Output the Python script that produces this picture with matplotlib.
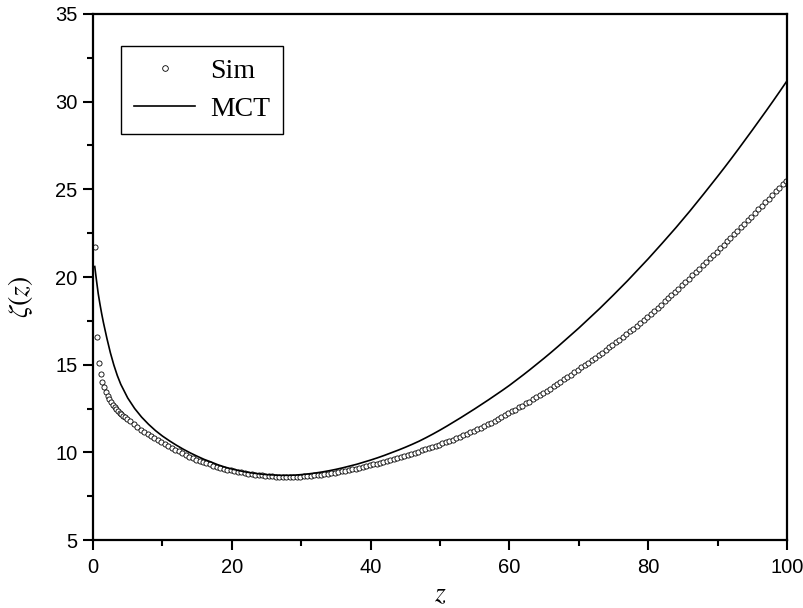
import numpy as np
import matplotlib
matplotlib.use("Agg")
import matplotlib.pyplot as plt
from matplotlib.ticker import MultipleLocator

# simulation: fine grid near the wall, then every 0.5
sim_z_near = np.round(0.35 + 0.25 * np.arange(19), 2)
sim_y_near = [21.7, 16.6, 15.1, 14.45, 14.0, 13.7, 13.45, 13.22, 13.02, 12.85,
              12.71, 12.58, 12.46, 12.36, 12.26, 12.17, 12.08, 12.00, 11.92]

sim_z_far = np.round(5.35 + 0.5 * np.arange(190), 2)
sim_y_far = [
    11.76, 11.59, 11.43, 11.29, 11.16, 11.04, 10.92, 10.81, 10.70, 10.59,
    10.48, 10.38, 10.27, 10.16, 10.06, 9.96, 9.86, 9.76, 9.66, 9.58,
    9.51, 9.44, 9.37, 9.31, 9.25, 9.19, 9.13, 9.07, 9.02, 8.98,
    8.94, 8.90, 8.86, 8.82, 8.78, 8.75, 8.72, 8.70, 8.68, 8.66,
    8.64, 8.63, 8.62, 8.61, 8.60, 8.60, 8.60, 8.60, 8.61, 8.62,
    8.63, 8.65, 8.67, 8.69, 8.71, 8.73, 8.76, 8.79, 8.82, 8.85,
    8.88, 8.92, 8.95, 8.99, 9.03, 9.07, 9.11, 9.16, 9.21, 9.26,
    9.31, 9.36, 9.41, 9.46, 9.51, 9.57, 9.62, 9.68, 9.74, 9.80,
    9.86, 9.92, 9.98, 10.04, 10.11, 10.17, 10.24, 10.30, 10.37, 10.44,
    10.51, 10.58, 10.66, 10.73, 10.81, 10.89, 10.97, 11.06, 11.14, 11.23,
    11.32, 11.41, 11.51, 11.60, 11.70, 11.80, 11.90, 12.01, 12.11, 12.22,
    12.33, 12.44, 12.56, 12.67, 12.79, 12.90, 13.02, 13.14, 13.27, 13.39,
    13.52, 13.64, 13.77, 13.90, 14.03, 14.16, 14.29, 14.43, 14.56, 14.70,
    14.84, 14.98, 15.12, 15.26, 15.40, 15.54, 15.69, 15.83, 15.98, 16.12,
    16.27, 16.42, 16.58, 16.74, 16.90, 17.06, 17.22, 17.39, 17.56, 17.73,
    17.90, 18.08, 18.25, 18.43, 18.61, 18.79, 18.97, 19.15, 19.34, 19.53,
    19.71, 19.90, 20.09, 20.28, 20.47, 20.67, 20.86, 21.06, 21.25, 21.45,
    21.65, 21.85, 22.04, 22.24, 22.44, 22.64, 22.84, 23.04, 23.24, 23.45,
    23.65, 23.85, 24.06, 24.26, 24.47, 24.67, 24.88, 25.08, 25.29, 25.50,
]

# MCT curve
mct_z = [0.25, 0.5, 0.75, 1.0, 1.25, 1.5, 2.0, 2.5, 3.0, 3.5, 4.0] + list(range(5, 101))
mct_y = [
    20.6, 19.8, 19.05, 18.45, 17.9, 17.4, 16.5, 15.68, 14.98, 14.38, 13.88,
    13.10, 12.50, 12.01, 11.60, 11.24, 10.93, 10.66, 10.41, 10.18, 9.97,
    9.78, 9.60, 9.45, 9.29, 9.16, 9.05, 8.96, 8.88, 8.82, 8.77, 8.73, 8.71, 8.69,
    8.69, 8.70, 8.73, 8.77, 8.82, 8.88, 8.95, 9.03, 9.12, 9.22,
    9.32, 9.44, 9.56, 9.69, 9.83, 9.98, 10.13, 10.29, 10.46, 10.64,
    10.84, 11.05, 11.27, 11.50, 11.74, 11.98, 12.23, 12.48, 12.74, 13.00,
    13.27, 13.54, 13.82, 14.12, 14.42, 14.73, 15.05, 15.37, 15.70, 16.04,
    16.39, 16.74, 17.09, 17.46, 17.83, 18.20, 18.59, 18.98, 19.38, 19.78,
    20.20, 20.62, 21.04, 21.48, 21.92, 22.37, 22.82, 23.29, 23.76, 24.25,
    24.74, 25.24, 25.74, 26.25, 26.77, 27.30, 27.84, 28.38, 28.93, 29.48,
    30.04, 30.61, 31.19,
]

sim_z = np.concatenate([sim_z_near, sim_z_far])
sim_y = np.array(sim_y_near + sim_y_far)

plt.rcParams['mathtext.fontset'] = 'stix'
plt.rcParams['font.family'] = 'Liberation Sans'

fig = plt.figure(figsize=(8.04, 6.08), dpi=100)
ax = fig.add_axes([0.1157, 0.1118, 0.8632, 0.8652])

ax.plot(sim_z, sim_y, linestyle='none', marker='o', markersize=3.7,
        markerfacecolor='white', markeredgecolor='black', markeredgewidth=0.6,
        label='Sim')
ax.plot(mct_z, mct_y, color='black', linewidth=1.2, label='MCT')

ax.set_xlim(0, 100)
ax.set_ylim(5, 35)
ax.xaxis.set_major_locator(MultipleLocator(20))
ax.xaxis.set_minor_locator(MultipleLocator(10))
ax.yaxis.set_major_locator(MultipleLocator(5))
ax.yaxis.set_minor_locator(MultipleLocator(2.5))

for s in ax.spines.values():
    s.set_linewidth(1.6)
ax.tick_params(which='major', direction='out', length=7, width=1.5, labelsize=14.5)
ax.tick_params(which='minor', direction='out', length=4, width=1.5)
ax.tick_params(axis='y', which='major', pad=4)
ax.tick_params(axis='x', which='major', pad=6)

ax.set_xlabel(r'$z$', fontsize=20)
ax.set_ylabel(r'$\zeta(z)$', fontsize=20)
ax.xaxis.set_label_coords(0.5, -0.079)
ax.yaxis.set_label_coords(-0.083, 0.462)

leg = ax.legend(loc='upper left', bbox_to_anchor=(0.041, 0.939), borderaxespad=0,
                prop={'family': 'Liberation Serif', 'size': 20},
                frameon=True, fancybox=False, edgecolor='black', framealpha=1,
                handlelength=2.2, handletextpad=0.55, borderpad=0.45,
                labelspacing=0.45, markerscale=1.1)
leg.get_frame().set_linewidth(1.0)

fig.savefig('out.png', dpi=100)
